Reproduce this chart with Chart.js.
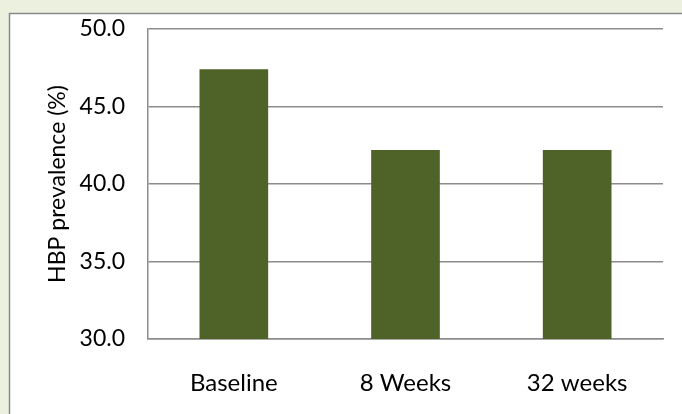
<!DOCTYPE html>
<html>
<head>
<meta charset="utf-8">
<script src="https://cdn.jsdelivr.net/npm/chart.js@4.4.1/dist/chart.umd.min.js"></script>
<style>
  html, body { margin: 0; padding: 0; background: #ebf1de; }
  #wrap { width: 682px; height: 414px; position: relative; }
</style>
</head>
<body>
<div id="wrap"><canvas id="ch_hbp"></canvas></div>
<script>
// data
const categories = ['Baseline', '8 Weeks', '32 weeks'];
const prevalence = [47.4, 42.2, 42.2];
const yTicks = [30, 35, 40, 45, 50];

const FONT = "Lato, 'Liberation Sans', sans-serif";
const GRID = '#8c8c8c';

/* ── panel background: green frame + white box with grey border ── */
const panelBg = {
  id: 'panelBg',
  beforeDraw(chart) {
    const { ctx, width, height } = chart;
    ctx.save();
    ctx.fillStyle = '#ebf1de';
    ctx.fillRect(0, 0, width, height);
    ctx.fillStyle = '#ffffff';
    ctx.fillRect(9, 13, width, height);
    ctx.strokeStyle = '#8a8a8a';
    ctx.lineWidth = 1.5;
    ctx.strokeRect(9.5, 13.5, width, height);
    ctx.restore();
  }
};

new Chart(document.getElementById('ch_hbp').getContext('2d'), {
  type: 'bar',
  data: {
    labels: categories,
    datasets: [{
      label: 'HBP prevalence (%)',
      data: prevalence,
      backgroundColor: '#4f6228',
      categoryPercentage: 1,
      barPercentage: 0.4
    }]
  },
  options: {
    responsive: true,
    maintainAspectRatio: false,
    animation: false,
    layout: { padding: { left: 0, top: 29, right: 19, bottom: 0 } },
    plugins: {
      legend: { display: false },
      tooltip: { enabled: false }
    },
    scales: {
      x: {
        grid: { display: false },
        border: { display: true, color: GRID, width: 1.5 },
        ticks: { color: '#000', font: { family: FONT, size: 24 }, padding: 22 },
        afterFit: s => { s.height = 75; }
      },
      y: {
        min: yTicks[0],
        max: yTicks[yTicks.length - 1],
        afterBuildTicks: s => { s.ticks = yTicks.map(v => ({ value: v })); },
        grid: { color: GRID, lineWidth: 1.5, drawTicks: false },
        border: { display: true, color: GRID, width: 1.5 },
        ticks: {
          color: '#000', font: { family: FONT, size: 23 }, padding: 23,
          callback: v => v.toFixed(1)
        },
        title: {
          display: true, text: 'HBP prevalence (%)', color: '#000',
          font: { family: FONT, size: 23 }, padding: { top: 44, bottom: 0 }
        },
        // fixed axis box; label overhang should not push the plot down
        afterFit: s => { s.width = 148; s.paddingTop = 0; s.paddingBottom = 0; }
      }
    }
  },
  plugins: [panelBg]
});
</script>
</body>
</html>
